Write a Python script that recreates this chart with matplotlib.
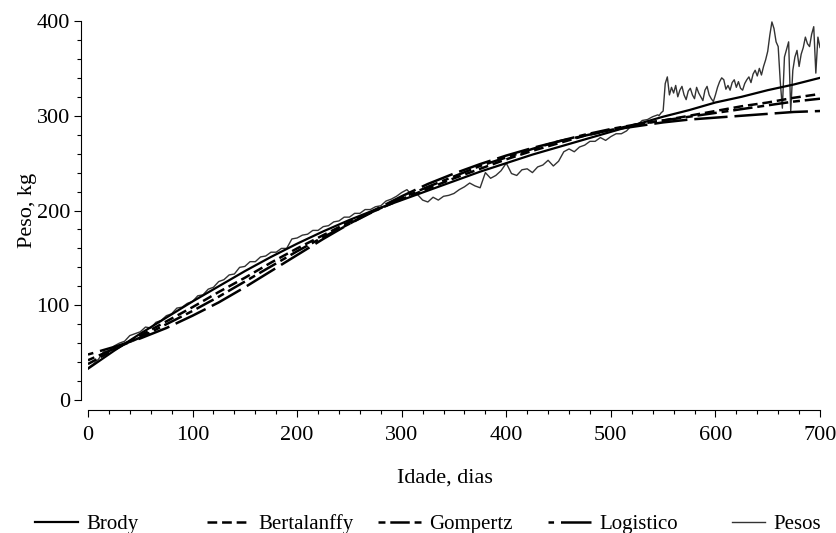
import matplotlib
matplotlib.use('Agg')
import matplotlib.pyplot as plt
from matplotlib.ticker import MultipleLocator

plt.rcParams.update({
    'font.family': ['Liberation Serif', 'DejaVu Serif'],
    'lines.scale_dashes': False,
})

# ── curvas ajustadas (a cada 25 dias) ──
dias_modelo = list(range(0, 701, 25))
brody = [33, 52, 70, 87, 104, 120, 136, 151, 165, 178, 190, 201, 211, 221, 231,
         241, 250, 259, 267, 275, 283, 291, 299, 306, 314, 320, 327, 333, 340]
bertalanffy = [38, 53, 68, 83, 98, 114, 129, 145, 160, 174, 188, 200, 212, 223, 234,
               244, 254, 263, 271, 279, 285, 291, 295, 300, 305, 310, 314, 319, 323]
gompertz = [42, 54, 66, 80, 94, 109, 125, 141, 157, 172, 186, 200, 213, 225, 236,
            247, 256, 265, 273, 280, 286, 291, 295, 299, 303, 307, 311, 315, 318]
logistico = [48, 56, 65, 76, 89, 103, 119, 136, 153, 170, 186, 201, 215, 228, 239,
             249, 258, 266, 273, 279, 285, 289, 293, 296, 298, 300, 302, 304, 305]

# ── pesos observados ──
dias_pesos = list(range(0, 546, 5)) + list(range(546, 701, 2))
pesos = [34, 38, 43, 51, 52, 57, 60, 62, 68, 70, 72, 77, 76, 82, 84, 89, 91, 97, 98, 102,
         104, 110, 111, 117, 119, 125, 127, 132, 133, 140, 141, 146, 146, 151, 152, 156, 156, 160, 160, 170,
         171, 174, 175, 179, 179, 183, 184, 188, 189, 193, 193, 197, 197, 201, 201, 204, 205, 210, 212, 215,
         219, 222, 216, 217, 211, 209, 214, 211, 215, 216, 218, 222, 225, 229, 226, 224, 240, 234, 237, 242,
         250, 239, 237, 243, 244, 240, 246, 248, 253, 247, 252, 262, 265, 262, 267, 269, 273, 273, 277, 274,
         278, 281, 281, 284, 290, 290, 295, 296, 299, 301,
         300, 303, 305, 334, 341, 322, 330, 324, 332, 320, 327, 331, 322, 317, 326, 329, 322, 318, 330, 324,
         320, 316, 327, 331, 322, 318, 315, 322, 330, 336, 340, 338, 328, 332, 327, 335, 338, 330, 336, 329,
         327, 334, 338, 341, 335, 344, 348, 342, 350, 343, 352, 359, 368, 385, 399, 392, 378, 373, 336, 308,
         362, 370, 378, 305, 348, 362, 369, 352, 365, 372, 383, 376, 373, 386, 394, 345, 383, 372]

fig = plt.figure(figsize=(8.37, 5.33), dpi=100, facecolor='white')
ax = fig.add_axes([0.1051, 0.2495, 0.8746, 0.7111])

ax.plot(dias_pesos, pesos, color='#333333', lw=1.0, label='Pesos')
ax.plot(dias_modelo, brody, color='black', lw=1.6, label='Brody')
ax.plot(dias_modelo, bertalanffy, color='black', lw=1.8, linestyle=(0, (7, 3.5)), label='Bertalanffy')
ax.plot(dias_modelo, gompertz, color='black', lw=1.8, linestyle=(17.5, (14, 3.5, 5, 3.5)), label='Gompertz')
ax.plot(dias_modelo, logistico, color='black', lw=1.8, linestyle=(20, (24, 5)), label='Logistico')

ax.set_xlim(0, 700)
ax.set_ylim(0, 400)
ax.xaxis.set_major_locator(MultipleLocator(100))
ax.xaxis.set_minor_locator(MultipleLocator(20))
ax.yaxis.set_major_locator(MultipleLocator(100))
ax.yaxis.set_minor_locator(MultipleLocator(20))

for s in ['top', 'right']:
    ax.spines[s].set_visible(False)
ax.spines['left'].set_position(('outward', 5))
ax.spines['bottom'].set_position(('outward', 7))
ax.tick_params(which='major', direction='out', length=5, width=0.8, labelsize=16)
ax.tick_params(which='minor', direction='out', length=3, width=0.8)
ax.tick_params(axis='x', pad=7)
ax.tick_params(axis='y', pad=3)

ax.set_xlabel('Idade, dias', fontsize=16)
ax.set_ylabel('Peso, kg', fontsize=16)
ax.xaxis.set_label_coords(0.488, -0.182)
ax.yaxis.set_label_coords(-0.07, 0.5)

# legenda em colunas de largura fixa
linhas = {l.get_label(): l for l in ax.get_lines()}
pos_leg = [('Brody', 35), ('Bertalanffy', 207), ('Gompertz', 378),
           ('Logistico', 548), ('Pesos', 732)]
for nome, xp in pos_leg:
    fig.legend([linhas[nome]], [nome], loc='center left',
               bbox_to_anchor=(xp / 837, 0.016), frameon=False, fontsize=15,
               handlelength=2.05 if nome != 'Pesos' else 1.6,
               handletextpad=0.4, borderpad=0, borderaxespad=0)

fig.savefig('out.png', dpi=100, facecolor='white')
